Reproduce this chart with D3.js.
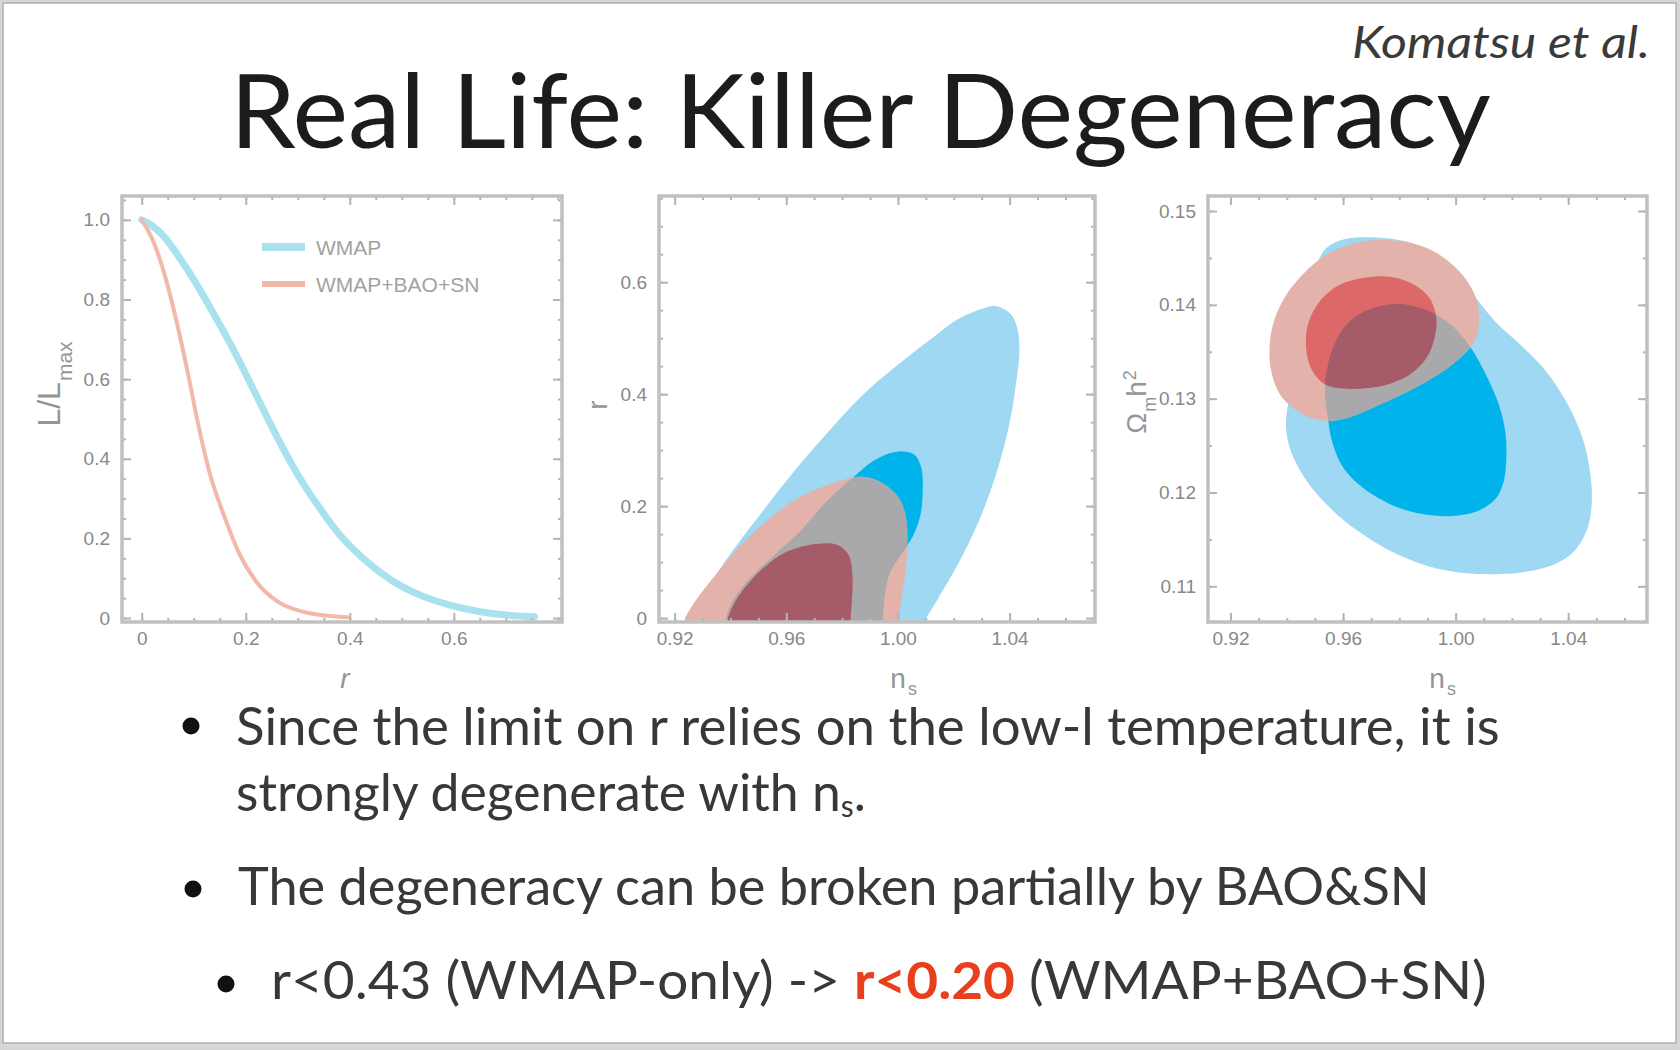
<!DOCTYPE html>
<html>
<head>
<meta charset="utf-8">
<script src="https://cdn.jsdelivr.net/npm/d3@7"></script>
<style>
  body { margin: 0; background: #fff; }
  svg { display: block; }
</style>
</head>
<body>
<svg id="slide" width="1680" height="1050"></svg>
<script>
// ---- panel 1 : 1D likelihood of r ----
var wmapR = [0, 0.02, 0.04, 0.07, 0.10, 0.14, 0.18, 0.22, 0.26, 0.30, 0.34, 0.38, 0.43, 0.48, 0.54, 0.60, 0.67, 0.755];
var wmapL = [1.0, 0.985, 0.962, 0.91, 0.85, 0.76, 0.665, 0.56, 0.455, 0.36, 0.28, 0.21, 0.145, 0.095, 0.055, 0.03, 0.012, 0.003];
var baoR = [0, 0.025, 0.046, 0.067, 0.088, 0.109, 0.130, 0.158, 0.186, 0.221, 0.263, 0.312, 0.361, 0.396];
var baoL = [1.0, 0.937, 0.853, 0.744, 0.619, 0.484, 0.367, 0.258, 0.166, 0.090, 0.040, 0.015, 0.005, 0.002];
var legendNames = ['WMAP', 'WMAP+BAO+SN'];

// ---- panel 2 : r vs n_s, contour outlines [n_s, r] ----
var rWmap95 = [[0.9256,0],[0.9379,0.100],[0.9503,0.183],[0.9626,0.261],[0.9749,0.332],[0.9873,0.398],[0.9996,0.451],[1.0120,0.499],[1.0219,0.535],[1.0317,0.555],[1.0354,0.557],[1.0404,0.543],[1.0428,0.517],[1.0435,0.475],[1.0422,0.415],[1.0398,0.344],[1.0354,0.261],[1.0293,0.177],[1.0219,0.100],[1.0144,0.035],[1.0101,0]];
var rWmap68 = [[0.9384,0],[0.9400,0.023],[0.9442,0.055],[0.9503,0.088],[0.9557,0.112],[0.9600,0.132],[0.9648,0.154],[0.9725,0.198],[0.9799,0.234],[0.9848,0.255],[0.9898,0.276],[0.9947,0.290],[1.0009,0.298],[1.0058,0.292],[1.0083,0.270],[1.0089,0.231],[1.0080,0.183],[1.0052,0.145],[1.0009,0.112],[0.9972,0.082],[0.9953,0.040],[0.9947,0]];
var rBao95 = [[0.9237,0],[0.9268,0.026],[0.9330,0.067],[0.9404,0.112],[0.9478,0.151],[0.9552,0.183],[0.9626,0.210],[0.9712,0.231],[0.9786,0.244],[0.9848,0.252],[0.9910,0.249],[0.9965,0.234],[1.0009,0.210],[1.0031,0.171],[1.0033,0.124],[1.0024,0.070],[1.0011,0.029],[1.0003,0]];
var rBao68 = [[0.9391,0],[0.9410,0.023],[0.9453,0.055],[0.9515,0.088],[0.9577,0.112],[0.9651,0.127],[0.9725,0.133],[0.9786,0.130],[0.9824,0.112],[0.9836,0.082],[0.9836,0.040],[0.9830,0]];

// ---- panel 3 : Omega_m h^2 vs n_s, contour outlines [n_s, omh2] ----
var omWmap95 = [[0.9397,0.1271],[0.9410,0.1304],[0.9429,0.1336],[0.9455,0.1375],[0.9481,0.1414],[0.9504,0.1442],[0.9543,0.1461],[0.9604,0.1470],[0.9701,0.1472],[0.9830,0.1467],[0.9934,0.1454],[1.0012,0.1432],[1.0063,0.1411],[1.0141,0.1382],[1.0232,0.1357],[1.0322,0.1329],[1.0400,0.1293],[1.0452,0.1257],[1.0478,0.1221],[1.0484,0.1193],[1.0471,0.1164],[1.0426,0.1139],[1.0361,0.1125],[1.0258,0.1116],[1.0154,0.1113],[1.0038,0.1114],[0.9908,0.1121],[0.9779,0.1136],[0.9662,0.1157],[0.9559,0.1182],[0.9474,0.1211],[0.9416,0.1243]];
var omWmap68 = [[0.9546,0.1279],[0.9535,0.1307],[0.9546,0.1336],[0.9578,0.1364],[0.9630,0.1384],[0.9701,0.1396],[0.9792,0.1401],[0.9882,0.1396],[0.9960,0.1384],[1.0018,0.1368],[1.0063,0.1350],[1.0115,0.1321],[1.0154,0.1293],[1.0177,0.1264],[1.0180,0.1236],[1.0170,0.1211],[1.0141,0.1193],[1.0076,0.1180],[0.9986,0.1175],[0.9882,0.1177],[0.9779,0.1186],[0.9675,0.1204],[0.9604,0.1225],[0.9565,0.1250]];
var omBao95 = [[0.9520,0.1277],[0.9442,0.1286],[0.9377,0.1304],[0.9345,0.1329],[0.9339,0.1357],[0.9358,0.1386],[0.9403,0.1413],[0.9462,0.1434],[0.9533,0.1452],[0.9623,0.1464],[0.9727,0.1469],[0.9843,0.1466],[0.9934,0.1455],[1.0012,0.1436],[1.0063,0.1414],[1.0083,0.1393],[1.0076,0.1368],[1.0051,0.1354],[0.9986,0.1336],[0.9895,0.1318],[0.9792,0.1302],[0.9688,0.1288],[0.9597,0.1278]];
var omBao68 = [[0.9533,0.1316],[0.9487,0.1332],[0.9468,0.1357],[0.9478,0.1382],[0.9520,0.1405],[0.9585,0.1421],[0.9675,0.1429],[0.9766,0.1430],[0.9850,0.1422],[0.9908,0.1407],[0.9931,0.1386],[0.9924,0.1364],[0.9895,0.1343],[0.9843,0.1327],[0.9766,0.1316],[0.9675,0.1311],[0.9597,0.1311]];

// ---- tick labels ----
var rTicks = [0, 0.2, 0.4, 0.6];
var likeTicks = [0, 0.2, 0.4, 0.6, 0.8, 1.0];
var nsTicks = [0.92, 0.96, 1.00, 1.04];
var rTicks2 = [0, 0.2, 0.4, 0.6];
var omTicks = [0.11, 0.12, 0.13, 0.14, 0.15];

var bullets = [
  'Since the limit on r relies on the low-l temperature, it is',
  'strongly degenerate with n',
  'The degeneracy can be broken partially by BAO&SN',
  'r<0.43 (WMAP-only) -> '
];

var col = {
  light: '#9ed8f3', dark: '#00b3ea',
  pink: '#e3b2aa', gray: '#a9a8ab', red: '#dc6868', maroon: '#a55b68',
  wmapLine: '#a9e2ee', baoLine: '#f2b9ab'
};

var svg = d3.select('#slide');

// slide frame
svg.append('rect').attr('width', 1680).attr('height', 1050).attr('fill', '#d6d6d6');
svg.append('rect').attr('x', 3).attr('y', 3).attr('width', 1673).attr('height', 1040)
   .attr('fill', '#fff').attr('stroke', '#b0b0b0').attr('stroke-width', 1.5);

function fitText(t, x, y, w) {
  var bw = t.node().getComputedTextLength();
  t.attr('transform', 'translate(' + x + ',' + y + ') scale(' + (w / bw) + ',1)');
}

var title = svg.append('text')
  .attr('font-family', 'Lato, sans-serif').attr('font-size', 102)
  .attr('fill', '#1c1c1c')
  .text('Real Life: Killer Degeneracy');
fitText(title, 230, 148, 1261);

var cite = svg.append('text')
  .attr('font-family', 'Lato, sans-serif').attr('font-size', 44)
  .attr('font-style', 'italic').attr('fill', '#3a3a3a')
  .text('Komatsu et al.');
fitText(cite, 1352, 58, 298);

// ---- helpers ----
function makeAxes(g, x, y, box, o) {
  var tickCol = '#b4b4b4';
  function style(a) {
    a.select('.domain').remove();
    a.selectAll('line').attr('stroke', tickCol).attr('stroke-width', 2);
    a.selectAll('text').attr('fill', '#888')
     .attr('font-family', '"Liberation Sans", Arial, sans-serif').attr('font-size', 19);
  }
  var bx = d3.axisBottom(x).tickValues(o.xMajor).tickSize(-9).tickPadding(10).tickFormat(o.xFmt);
  g.append('g').attr('transform', 'translate(0,' + box.b + ')').call(bx).call(style);
  g.append('g').attr('transform', 'translate(0,' + box.b + ')')
   .call(d3.axisBottom(x).tickValues(o.xMinor).tickSize(-4).tickFormat('')).call(style);
  g.append('g').attr('transform', 'translate(0,' + box.t + ')')
   .call(d3.axisTop(x).tickValues(o.xMajor).tickSize(-9).tickFormat('')).call(style);
  g.append('g').attr('transform', 'translate(0,' + box.t + ')')
   .call(d3.axisTop(x).tickValues(o.xMinor).tickSize(-4).tickFormat('')).call(style);

  var ly = d3.axisLeft(y).tickValues(o.yMajor).tickSize(-9).tickPadding(12).tickFormat(o.yFmt);
  g.append('g').attr('transform', 'translate(' + box.l + ',0)').call(ly).call(style);
  g.append('g').attr('transform', 'translate(' + box.l + ',0)')
   .call(d3.axisLeft(y).tickValues(o.yMinor).tickSize(-4).tickFormat('')).call(style);
  g.append('g').attr('transform', 'translate(' + box.r + ',0)')
   .call(d3.axisRight(y).tickValues(o.yMajor).tickSize(-9).tickFormat('')).call(style);
  g.append('g').attr('transform', 'translate(' + box.r + ',0)')
   .call(d3.axisRight(y).tickValues(o.yMinor).tickSize(-4).tickFormat('')).call(style);

  g.append('rect').attr('x', box.l).attr('y', box.t)
   .attr('width', box.r - box.l).attr('height', box.b - box.t)
   .attr('fill', 'none').attr('stroke', '#c0c0c0').attr('stroke-width', 3.5);
}

function range(a, b, s) {
  var out = [];
  for (var v = a; v <= b + 1e-9; v += s) out.push(+v.toFixed(4));
  return out;
}

function clipRect(id, box) {
  svg.append('clipPath').attr('id', id).append('rect')
     .attr('x', box.l).attr('y', box.t).attr('width', box.r - box.l).attr('height', box.b - box.t);
}

var fmt1 = function(d) { return d === 0 ? '0' : d3.format('.1f')(d); };
var fmt2 = d3.format('.2f');

function label(x, y, rot, size, parts) {
  var t = svg.append('text')
    .attr('transform', 'translate(' + x + ',' + y + ')' + (rot ? ' rotate(-90)' : ''))
    .attr('text-anchor', 'middle').attr('fill', '#959595')
    .attr('font-family', '"Liberation Sans", Arial, sans-serif').attr('font-size', size);
  parts.forEach(function(p) {
    var s = t.append('tspan').text(p.t);
    if (p.it) s.attr('font-style', 'italic');
    if (p.sub) s.attr('dx', 1).attr('baseline-shift', 'sub').attr('font-size', Math.round(size * 0.66));
    if (p.sup) s.attr('dx', 1).attr('baseline-shift', 'super').attr('font-size', Math.round(size * 0.66));
  });
  return t;
}

// n_s drawn as two plain texts so the subscript sits beside the n
function nsLabel(x, y) {
  var f = '"Liberation Sans", Arial, sans-serif';
  svg.append('text').attr('x', x - 4).attr('y', y).attr('text-anchor', 'middle')
     .attr('fill', '#959595').attr('font-family', f).attr('font-size', 28).text('n');
  svg.append('text').attr('x', x + 6).attr('y', y + 7)
     .attr('fill', '#959595').attr('font-family', f).attr('font-size', 18).text('s');
}

// ---- panel 1 ----
var box1 = { l: 122, r: 562, t: 196, b: 622 };
var x1 = d3.scaleLinear().domain([-0.038, 0.808]).range([box1.l, box1.r]);
var y1 = d3.scaleLinear().domain([-0.01, 1.06]).range([box1.b, box1.t]);
clipRect('clip1', box1);
var g1 = svg.append('g');
var curve1 = d3.line().x(function(d) { return x1(d[0]); }).y(function(d) { return y1(d[1]); })
  .curve(d3.curveMonotoneX);
var g1d = g1.append('g').attr('clip-path', 'url(#clip1)');
g1d.append('path').datum(d3.zip(wmapR, wmapL)).attr('d', curve1)
   .attr('fill', 'none').attr('stroke', col.wmapLine).attr('stroke-width', 7).attr('stroke-linecap', 'round');
g1d.append('path').datum(d3.zip(baoR, baoL)).attr('d', curve1)
   .attr('fill', 'none').attr('stroke', col.baoLine).attr('stroke-width', 4).attr('stroke-linecap', 'round');

var legend = g1.selectAll('.legend').data(legendNames).enter().append('g')
  .attr('class', 'legend')
  .attr('transform', function(d, i) { return 'translate(262,' + (247 + i * 37) + ')'; });
legend.append('line').attr('x1', 0).attr('x2', 43)
  .attr('stroke', function(d, i) { return i === 0 ? col.wmapLine : col.baoLine; })
  .attr('stroke-width', function(d, i) { return i === 0 ? 8 : 6; });
legend.append('text').attr('x', 54).attr('dy', '0.36em')
  .attr('fill', '#a2a2a2').attr('font-family', '"Liberation Sans", Arial, sans-serif')
  .attr('font-size', 21).text(function(d) { return d; });

makeAxes(g1, x1, y1, box1, {
  xMajor: rTicks, xMinor: range(0, 0.8, 0.05), xFmt: fmt1,
  yMajor: likeTicks, yMinor: range(0, 1.05, 0.05), yFmt: fmt1
});
label(345, 688, false, 28, [{ t: 'r', it: true }]);
label(60, 384, true, 32, [{ t: 'L/L' }, { t: 'max', sub: true }]);

// ---- contour helpers ----
function openContour(x, y) {
  var ln = d3.line().x(function(d) { return x(d[0]); }).y(function(d) { return y(d[1]); })
    .curve(d3.curveCatmullRom.alpha(0.5));
  return function(pts) {
    var a = pts[0], z = pts[pts.length - 1];
    return ln(pts) + 'L' + x(z[0]) + ',' + (y(0) + 30) + 'L' + x(a[0]) + ',' + (y(0) + 30) + 'Z';
  };
}
function closedContour(x, y) {
  return d3.line().x(function(d) { return x(d[0]); }).y(function(d) { return y(d[1]); })
    .curve(d3.curveCatmullRomClosed.alpha(0.5));
}

// overlap colours: BAO contours turn grey / maroon where they sit on the WMAP 68% region
function drawContours(g, shape, w95, w68, b95, b68, clipId, innerId) {
  svg.append('clipPath').attr('id', innerId).append('path').attr('d', shape(w68));
  var c = g.append('g').attr('clip-path', 'url(#' + clipId + ')');
  c.append('path').attr('d', shape(w95)).attr('fill', col.light);
  c.append('path').attr('d', shape(w68)).attr('fill', col.dark);
  c.append('path').attr('d', shape(b95)).attr('fill', col.pink);
  c.append('g').attr('clip-path', 'url(#' + innerId + ')')
   .append('path').attr('d', shape(b95)).attr('fill', col.gray);
  c.append('path').attr('d', shape(b68)).attr('fill', col.red);
  c.append('g').attr('clip-path', 'url(#' + innerId + ')')
   .append('path').attr('d', shape(b68)).attr('fill', col.maroon);
}

// ---- panel 2 ----
var box2 = { l: 659, r: 1095, t: 196, b: 622 };
var x2 = d3.scaleLinear().domain([0.9144, 1.0706]).range([box2.l, box2.r]);
var y2 = d3.scaleLinear().domain([-0.007, 0.754]).range([box2.b, box2.t]);
clipRect('clip2', box2);
var g2 = svg.append('g');
drawContours(g2, openContour(x2, y2), rWmap95, rWmap68, rBao95, rBao68, 'clip2', 'in2');
makeAxes(g2, x2, y2, box2, {
  xMajor: nsTicks, xMinor: range(0.92, 1.07, 0.01), xFmt: fmt2,
  yMajor: rTicks2, yMinor: range(0, 0.75, 0.05), yFmt: fmt1
});
nsLabel(902, 688);
label(607, 405, true, 28, [{ t: 'r' }]);

// ---- panel 3 ----
var box3 = { l: 1208, r: 1647, t: 196, b: 622 };
var x3 = d3.scaleLinear().domain([0.912, 1.068]).range([box3.l, box3.r]);
var y3 = d3.scaleLinear().domain([0.1062, 0.1516]).range([box3.b, box3.t]);
clipRect('clip3', box3);
var g3 = svg.append('g');
drawContours(g3, closedContour(x3, y3), omWmap95, omWmap68, omBao95, omBao68, 'clip3', 'in3');
makeAxes(g3, x3, y3, box3, {
  xMajor: nsTicks, xMinor: range(0.92, 1.06, 0.01), xFmt: fmt2,
  yMajor: omTicks, yMinor: range(0.11, 0.15, 0.005), yFmt: fmt2
});
nsLabel(1441, 688);
label(1146, 402, true, 28, [{ t: '\u03a9' }, { t: 'm', sub: true }, { t: 'h' }, { t: '2', sup: true }]);

// ---- bullet text ----
var txtFont = 'Lato, "Open Sans", sans-serif';
function bulletText() {
  return svg.append('text').attr('font-family', txtFont).attr('font-size', 52).attr('fill', '#383838');
}
var dots = [[191, 726], [193, 889], [226, 984]];
svg.selectAll('.dot').data(dots).enter().append('circle')
  .attr('class', 'dot').attr('cx', function(d) { return d[0]; }).attr('cy', function(d) { return d[1]; })
  .attr('r', 8.5).attr('fill', '#111');

var l1 = bulletText(); l1.text(bullets[0]); fitText(l1, 236, 745, 1264);
var l2 = bulletText(); l2.text(bullets[1]);
l2.append('tspan').attr('font-size', 30).attr('baseline-shift', '-6').text('s');
l2.append('tspan').text('.');
fitText(l2, 236, 811, 630);
var l3 = bulletText(); l3.text(bullets[2]); fitText(l3, 238, 905, 1192);
var l4 = bulletText(); l4.text(bullets[3]);
l4.append('tspan').attr('fill', '#e8401c').attr('font-weight', 'bold').text('r<0.20');
l4.append('tspan').text(' (WMAP+BAO+SN)');
fitText(l4, 271, 999, 1216);
</script>
</body>
</html>
